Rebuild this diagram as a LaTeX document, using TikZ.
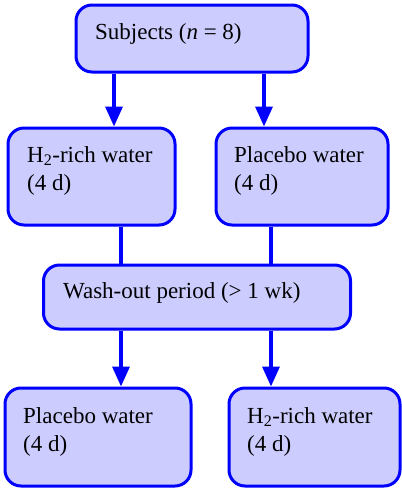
\documentclass[tikz,border=0pt]{standalone}
\usepackage{fontspec}
\setmainfont{Liberation Serif}
\usetikzlibrary{arrows.meta}
\definecolor{boxfill}{RGB}{204,204,255}
\definecolor{boxline}{RGB}{0,0,255}
\tikzset{
  box/.style={draw=boxline, fill=boxfill, line width=3pt, rounded corners=16pt,
    rectangle, inner sep=0pt, anchor=north west},
  lbl/.style={inner sep=0pt, anchor=base west, font=\fontsize{23}{28}\selectfont},
  conn/.style={draw=boxline, line width=3.5pt},
  arr/.style={conn, -{Triangle[width=17pt,length=20pt]}},
}
\begin{document}
\begin{tikzpicture}[x=1pt,y=-1pt]
\useasboundingbox (0,0) rectangle (402,488);
% boxes
\node[box, minimum width=232pt, minimum height=67pt] (subj) at (74.5,3.5) {};
\node[box, minimum width=167pt, minimum height=97pt] (h2a) at (6.5,126.5) {};
\node[box, minimum width=172pt, minimum height=97pt] (plA) at (214.5,126.5) {};
\node[box, minimum width=307pt, minimum height=64pt] (wash) at (42,263.5) {};
\node[box, minimum width=186pt, minimum height=98pt] (plB) at (3.5,386.5) {};
\node[box, minimum width=171pt, minimum height=98pt] (h2b) at (227.5,386.5) {};
% texts
\node[lbl] (t1) at (95,39) {Subjects (\textit{n} = 8)};
\node[lbl] (t2) at (27,162) {H\textsubscript{2}-rich water};
\node[lbl] (t3) at (27,190) {(4 d)};
\node[lbl] (t4) at (234,162) {Placebo water};
\node[lbl] (t5) at (234,190) {(4 d)};
\node[lbl] (t6) at (63,298) {Wash-out period (> 1 wk)};
\node[lbl] (t7) at (23,423) {Placebo water};
\node[lbl] (t8) at (23,451) {(4 d)};
\node[lbl] (t9) at (247,423) {H\textsubscript{2}-rich water};
\node[lbl] (t10) at (247,451) {(4 d)};
% connectors
\draw[arr] (subj.south -| 114,0) -- (h2a.north -| 114,0);
\draw[arr] (subj.south -| 264,0) -- (plA.north -| 264,0);
\draw[conn] (h2a.south -| 121,0) -- (wash.north -| 121,0);
\draw[conn] (plA.south -| 271,0) -- (wash.north -| 271,0);
\draw[arr] (wash.south -| 121,0) -- (plB.north -| 121,0);
\draw[arr] (wash.south -| 271,0) -- (h2b.north -| 271,0);
\end{tikzpicture}
\end{document}
